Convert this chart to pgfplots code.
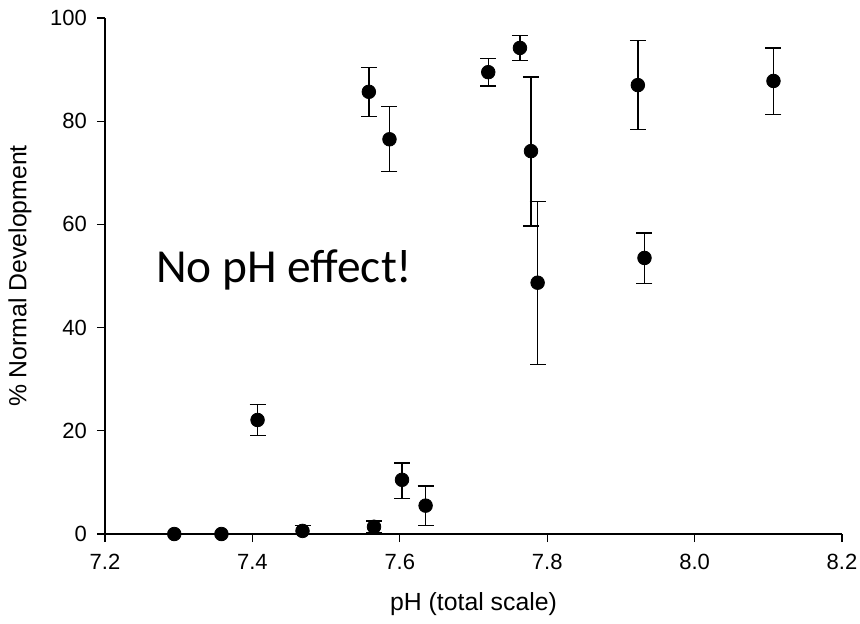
\documentclass[border=0pt]{standalone}
\usepackage{pgfplots}
\pgfplotsset{compat=1.18}
\usepackage{pgfplotstable}
\usepackage{fontspec}
\setmainfont{Liberation Sans}
\newfontfamily\calibri{Carlito}
\pgfplotstableread{
x y ep em
7.294 0 0 0
7.358 0 0 0
7.407 22.1 3.0 3.0
7.468 0.6 1.1 0.6
7.565 1.4 1.1 1.1
7.558 85.7 4.7 4.8
7.586 76.5 6.3 6.2
7.603 10.5 3.3 3.6
7.635 5.5 3.8 3.8
7.720 89.5 2.6 2.7
7.763 94.2 2.4 2.4
7.778 74.2 14.4 14.5
7.787 48.7 15.7 15.8
7.923 87.0 8.6 8.6
7.932 53.5 4.8 4.9
8.107 87.8 6.4 6.5
}\datatable
\begin{document}
\begin{tikzpicture}
\useasboundingbox (-52.5pt,-44.5pt) rectangle (377.5pt,267pt);
\begin{axis}[
  at={(0,0)}, anchor=south west,
  scale only axis,
  width=368.5pt, height=258pt,
  xmin=7.2, xmax=8.2, ymin=0, ymax=100,
  axis x line=bottom, axis y line=left,
  axis line style={-, line width=0.6pt},
  xtick={7.2,7.4,7.6,7.8,8.0,8.2},
  ytick={0,20,40,60,80,100},
  x tick label style={yshift=-2.5pt, /pgf/number format/.cd, fixed, fixed zerofill, precision=1},
  /pgf/number format/assume math mode=true,
  tick align=outside,
  major tick length=4pt,
  tick style={line width=0.6pt, black},
  tick label style={font=\fontsize{11}{13}\selectfont},
  y tick label style={xshift=-1.5pt},
  xlabel={pH (total scale)},
  ylabel={\% Normal Development},
  label style={font=\fontsize{12.4}{14}\selectfont},
  xlabel style={at={(axis description cs:0.5,-0.136)}, anchor=center},
  ylabel style={at={(axis description cs:-0.1154,0.5)}, anchor=center},
  clip=false,
]
\addplot[only marks, mark=*, mark size=3.4pt, black,
  error bars/.cd, y dir=both, y explicit,
  error bar style={line width=0.7pt, black},
  error mark options={rotate=90, mark size=4pt, line width=0.7pt, black}]
  table[x=x, y=y, y error plus=ep, y error minus=em] {\datatable};
\node[anchor=base west, inner sep=0pt, font=\calibri\fontsize{23.7}{28}\selectfont]
  at (axis cs:7.269,48.8) {No pH effect!};
\end{axis}
\end{tikzpicture}
\end{document}
